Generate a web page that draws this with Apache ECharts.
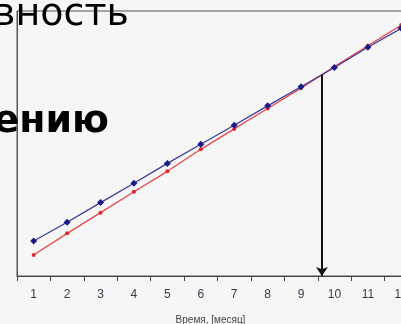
<!DOCTYPE html>
<html>
<head>
<meta charset="utf-8">
<style>
	html, body { margin: 0; padding: 0; background: #f6f6f6; }
	#chart { width: 401px; height: 324px; }
</style>
<script src="https://cdn.jsdelivr.net/npm/echarts@6.0.0/dist/echarts.min.js"></script>
</head>
<body>
<div id="chart"></div>
<script>
// данные
const months = [1, 2, 3, 4, 5, 6, 7, 8, 9, 10, 11, 12]; // месяцы
const monthLabels = ["1", "2", "3", "4", "5", "6", "7", "8", "9", "10", "11", "12"];
const blueValues = [13.2, 20.3, 27.7, 35.0, 42.5, 49.7, 56.9, 64.2, 71.4, 78.7, 86.3, 93.5];
const redValues = [7.9, 16.1, 23.9, 31.8, 39.5, 47.8, 55.5, 63.2, 70.9, 79.0, 86.9, 94.7];
const tickPositions = [0.5, 1.5, 2.5, 3.5, 4.5, 5.5, 6.5, 7.5, 8.5, 9.5, 10.5, 11.5, 12.5];

// точка пересечения линий (линейно между соседними месяцами)
let cross = null;
for (let i = 0; i < months.length - 1; i++) {
	const d1 = blueValues[i] - redValues[i];
	const d2 = blueValues[i + 1] - redValues[i + 1];
	if (d1 >= 0 && d2 < 0) {
		const t = d1 / (d1 - d2);
		cross = [
			months[i] + t * (months[i + 1] - months[i]),
			blueValues[i] + t * (blueValues[i + 1] - blueValues[i])
		];
		break;
	}
}

const chart = echarts.init(document.getElementById("chart"));
const option = {
	animation: false,
	backgroundColor: "#f6f6f6",
	grid: {
		left: 17,
		top: 11,
		width: 401,
		bottom: 48,
		outerBoundsMode: "none",
		containLabel: false,
		show: true,
		borderColor: "#555",
		borderWidth: 1
	},
	xAxis: {
		type: "value",
		min: 0.5,
		max: 12.5,
		name: "Время, [месяц]",
		nameLocation: "middle",
		nameGap: 39,
		nameTextStyle: {
			color: "#444",
			fontSize: 10,
			fontFamily: "Liberation Sans",
			padding: [0, 14, 0, 0]
		},
		splitLine: { show: false },
		axisLine: { lineStyle: { color: "#444", width: 1 } },
		axisTick: {
			customValues: tickPositions,
			length: 5,
			lineStyle: { color: "#444" }
		},
		axisLabel: {
			customValues: months,
			formatter: v => monthLabels[months.indexOf(v)],
			margin: 13,
			color: "#3a3a4a",
			fontSize: 12,
			fontFamily: "Liberation Sans"
		}
	},
	yAxis: {
		type: "value",
		min: 0,
		max: 100,
		splitLine: { show: false },
		axisTick: { show: false },
		axisLabel: { show: false },
		axisLine: { show: true, lineStyle: { color: "#555", width: 1 } }
	},
	series: [
		{
			type: "line",
			data: months.map((m, i) => [m, redValues[i]]),
			symbol: "circle",
			symbolSize: 4,
			itemStyle: { color: "#e02828" },
			lineStyle: { color: "#e8484a", width: 1.3 },
			z: 2
		},
		{
			type: "line",
			clip: false,
			data: months.map((m, i) => [m, blueValues[i]]),
			symbol: "diamond",
			symbolSize: 7,
			itemStyle: { color: "#1a1a88" },
			lineStyle: { color: "#3a3a9e", width: 1.3 },
			z: 3,
			markLine: {
				silent: true,
				symbol: ["none", "arrow"],
				symbolSize: 9,
				label: { show: false },
				lineStyle: { color: "#111", width: 2, type: "solid" },
				data: cross ? [[{ coord: [cross[0], cross[1]] }, { coord: [cross[0], 0] }]] : []
			}
		}
	],
	graphic: [
		{
			type: "text",
			x: 129,
			y: 15,
			z: 10,
			style: {
				text: "вность",
				font: '38px "DejaVu Sans"',
				fill: "#000",
				align: "right",
				verticalAlign: "middle"
			}
		},
		{
			type: "text",
			x: 109,
			y: 122,
			z: 10,
			style: {
				text: "ению",
				font: 'bold 38px "DejaVu Sans"',
				fill: "#000",
				align: "right",
				verticalAlign: "middle"
			}
		}
	]
};
chart.setOption(option);
</script>
</body>
</html>
